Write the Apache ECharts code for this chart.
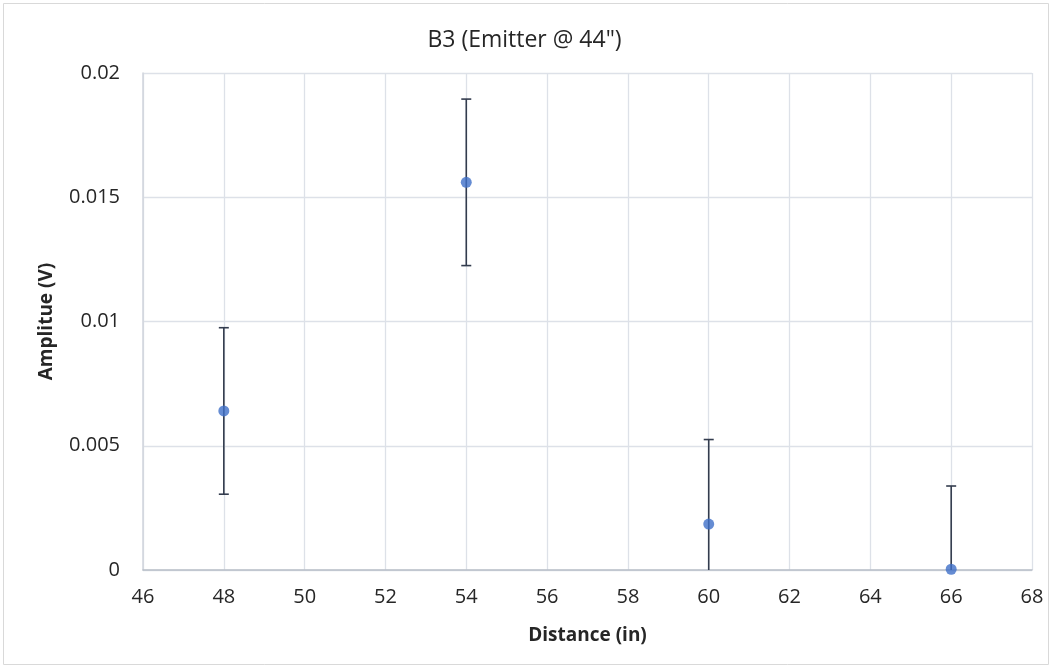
<!DOCTYPE html>
<html><head><meta charset="utf-8">
<script src="https://cdn.jsdelivr.net/npm/echarts@6/dist/echarts.min.js"></script>
<style>html,body{margin:0;padding:0;background:#fff}#c{width:1049px;height:666px}</style>
</head><body><div id="c"></div>
<script>
const distances = [48, 54, 60, 66];
const amplitudes = [0.0064, 0.0156, 0.00185, 0.00003];
const errors = [0.00335, 0.00335, 0.0034, 0.00335];
const xTicks = [46, 68, 2];
const yTicks = [0, 0.02, 0.005];

const chart = echarts.init(document.getElementById('c'));
const font = '"Open Sans", Lato, sans-serif';
chart.setOption({
  animation: false,
  title: { text: 'B3 (Emitter @ 44")', left: 'center', top: 24,
    textStyle: { fontFamily: font, fontSize: 23, fontWeight: 'normal', color: '#262626' } },
  graphic: [{ type: 'rect', shape: { x: 3.5, y: 3.5, width: 1045, height: 661 },
    style: { fill: 'none', stroke: '#d9d9d9', lineWidth: 1 }, silent: true }],
  grid: { left: 143, right: 17, top: 73, bottom: 96 },
  xAxis: {
    type: 'value', min: xTicks[0], max: xTicks[1], interval: xTicks[2],
    name: 'Distance (in)', nameLocation: 'middle', nameGap: 56,
    nameTextStyle: { fontFamily: font, fontSize: 19, fontWeight: 'bold', color: '#262626' },
    axisLine: { show: true, lineStyle: { color: '#b8bec8', width: 1.5 } },
    axisTick: { show: false },
    axisLabel: { fontFamily: font, fontSize: 20, color: '#262626', margin: 17 },
    splitLine: { show: true, lineStyle: { color: '#dde1e8', width: 1.3 } }
  },
  yAxis: {
    type: 'value', min: yTicks[0], max: yTicks[1], interval: yTicks[2],
    name: 'Amplitue (V)', nameLocation: 'middle', nameGap: 87, nameRotate: 90,
    nameTextStyle: { fontFamily: font, fontSize: 19, fontWeight: 'bold', color: '#262626' },
    axisLine: { show: true, lineStyle: { color: '#d0d5dd', width: 1.5 } },
    axisTick: { show: false },
    axisLabel: { fontFamily: font, fontSize: 20, color: '#262626', margin: 23,
      formatter: v => String(Number(v.toFixed(4))) },
    splitLine: { show: true, lineStyle: { color: '#dde1e8', width: 1.3 } }
  },
  series: [
    {
      type: 'custom', clip: true, z: 2,
      data: distances.map((d, i) => [d, amplitudes[i] - errors[i], amplitudes[i] + errors[i]]),
      renderItem: (params, api) => {
        const x = api.value(0);
        const lo = api.coord([x, api.value(1)]);
        const hi = api.coord([x, api.value(2)]);
        const hw = 5;
        const style = { stroke: '#333c4e', lineWidth: 1.6, fill: null };
        return { type: 'group', children: [
          { type: 'line', shape: { x1: lo[0], y1: lo[1], x2: hi[0], y2: hi[1] }, style },
          { type: 'line', shape: { x1: hi[0] - hw, y1: hi[1], x2: hi[0] + hw, y2: hi[1] }, style },
          { type: 'line', shape: { x1: lo[0] - hw, y1: lo[1], x2: lo[0] + hw, y2: lo[1] }, style }
        ] };
      }
    },
    {
      type: 'scatter', z: 3, symbolSize: 11,
      itemStyle: { color: '#3f6fc8' },
      data: distances.map((d, i) => [d, amplitudes[i]])
    }
  ]
});
</script></body></html>
